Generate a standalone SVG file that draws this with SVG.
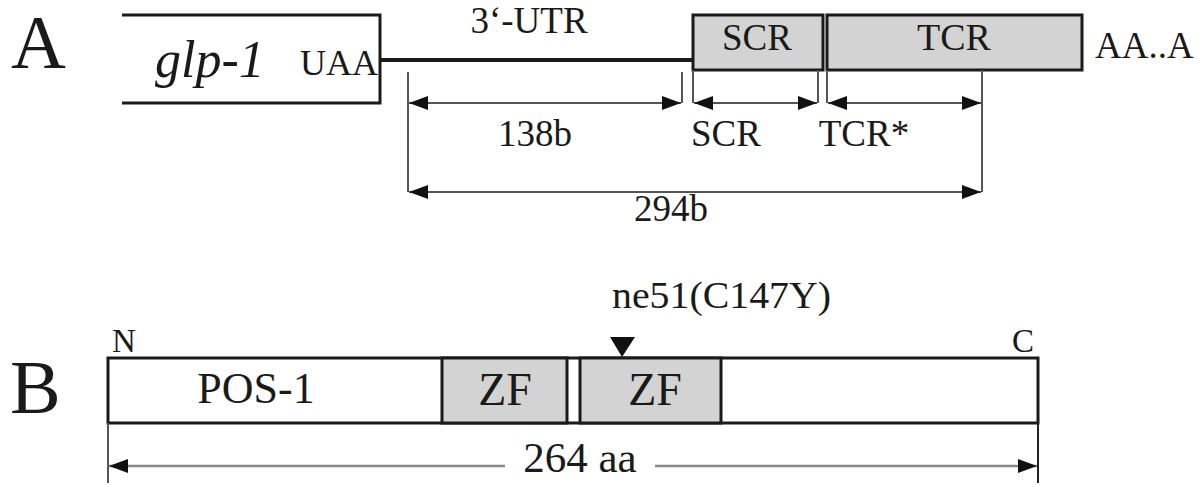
<svg xmlns="http://www.w3.org/2000/svg" width="1199" height="485" viewBox="0 0 1199 485">
<style>
text { font-family: "Liberation Serif", "Times New Roman", serif; fill: #1a1a1a; }
.box { stroke: #1a1a1a; stroke-width: 3; }
.gray { fill: #d3d3d3; }
.white { fill: #ffffff; }
.ln { stroke: #1a1a1a; stroke-width: 3; fill: none; }
.dim { stroke: #555555; stroke-width: 2; fill: none; }
.dimB { stroke: #8a8a8a; stroke-width: 2.5; fill: none; }
.ext { stroke: #555555; stroke-width: 2; fill: none; }
</style>
<defs>
<marker id="ah" markerUnits="userSpaceOnUse" markerWidth="20" markerHeight="16" refX="19" refY="8" orient="auto-start-reverse" viewBox="0 0 20 16">
<path d="M0,1 L19,8 L0,15 Z" fill="#111111"/>
</marker>
</defs>
<g id="labelA"><text x="11" y="68" font-size="76">A</text></g>
<g id="labelB"><text x="10" y="413" font-size="76">B</text></g>

<g id="glp1">
<path class="ln" d="M122,15 H380 V103 H122"/>
<text x="155" y="77" font-size="52" font-style="italic">glp-1</text>
<text x="300" y="75" font-size="36">UAA</text>
</g>
<g id="utr">
<line x1="380" y1="60" x2="693" y2="60" stroke="#1a1a1a" stroke-width="4"/>
<text x="529" y="33" font-size="37" text-anchor="middle">3‘-UTR</text>
</g>
<g id="scr">
<rect class="box gray" x="693" y="15" width="130" height="55"/>
<text x="757" y="50" font-size="37" text-anchor="middle">SCR</text>
</g>
<g id="tcr">
<rect class="box gray" x="827" y="15" width="255" height="55"/>
<text x="954" y="50" font-size="38" text-anchor="middle">TCR</text>
</g>
<g id="polyA"><text x="1095" y="58" font-size="37">AA..A</text></g>

<g id="dims-A">
<line class="ext" x1="408" y1="72" x2="408" y2="192"/>
<line class="ext" x1="682" y1="72" x2="682" y2="103"/>
<line class="ext" x1="693" y1="70" x2="693" y2="103"/>
<line class="ext" x1="818" y1="70" x2="818" y2="103"/>
<line class="ext" x1="827" y1="70" x2="827" y2="103"/>
<line class="ext" x1="982" y1="70" x2="982" y2="192"/>
<line class="dim" x1="409" y1="103" x2="681" y2="103" marker-start="url(#ah)" marker-end="url(#ah)"/>
<line class="dim" x1="694" y1="103" x2="817" y2="103" marker-start="url(#ah)" marker-end="url(#ah)"/>
<line class="dim" x1="828" y1="103" x2="981" y2="103" marker-start="url(#ah)" marker-end="url(#ah)"/>
<line class="dim" x1="409" y1="192" x2="981" y2="192" marker-start="url(#ah)" marker-end="url(#ah)"/>
<text x="535" y="146" font-size="37" text-anchor="middle">138b</text>
<text x="726" y="146" font-size="37" text-anchor="middle">SCR</text>
<text x="864" y="146" font-size="37" text-anchor="middle">TCR*</text>
<text x="671" y="221" font-size="37" text-anchor="middle">294b</text>
</g>

<g id="pos1">
<rect class="box white" x="108" y="358" width="930" height="65"/>
<text x="256" y="403" font-size="44" text-anchor="middle">POS-1</text>
<text x="112" y="352" font-size="33">N</text>
<text x="1012" y="352" font-size="33">C</text>
</g>
<g id="zf1">
<rect class="box gray" x="442" y="358" width="125" height="65"/>
<text x="505" y="405" font-size="46" text-anchor="middle">ZF</text>
</g>
<g id="zf2">
<rect class="box gray" x="580" y="358" width="141" height="65"/>
<text x="655" y="405" font-size="46" text-anchor="middle">ZF</text>
</g>
<g id="ne51">
<path d="M610,337 L635,337 L622,357 Z" fill="#111111"/>
<text x="612" y="308" font-size="38" textLength="219" lengthAdjust="spacingAndGlyphs">ne51(C147Y)</text>
</g>
<g id="dims-B">
<line class="ext" x1="108" y1="423" x2="108" y2="483" stroke="#777777"/>
<line x1="1038" y1="423" x2="1038" y2="483" stroke="#222222" stroke-width="2"/>
<line class="dimB" x1="109" y1="466" x2="505" y2="466" marker-start="url(#ah)"/>
<line class="dimB" x1="655" y1="466" x2="1037" y2="466" marker-end="url(#ah)"/>
<text x="580" y="472" font-size="43" text-anchor="middle">264 aa</text>
</g>
</svg>
